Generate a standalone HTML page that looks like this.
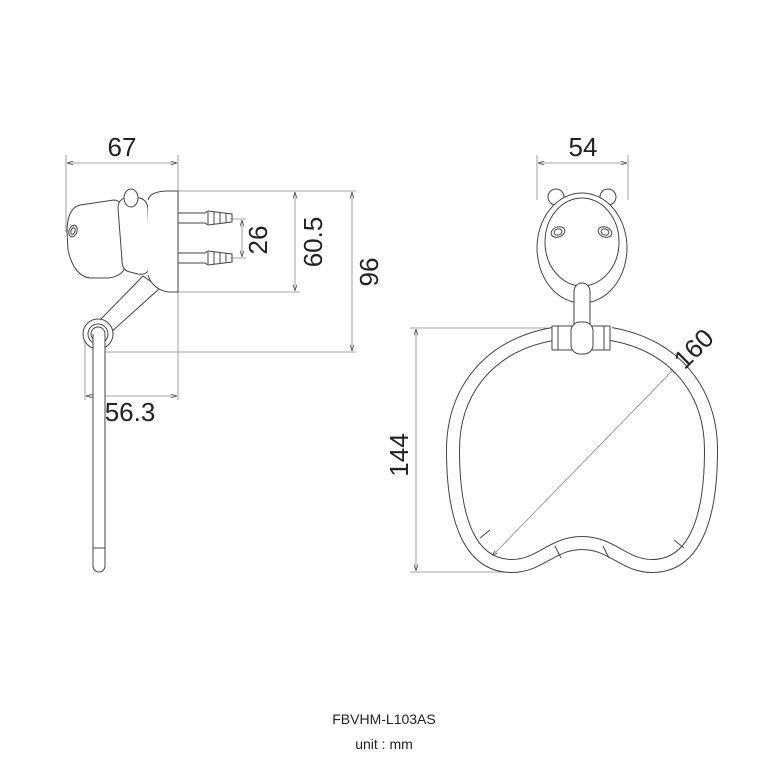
<!DOCTYPE html>
<html><head><meta charset="utf-8"><style>
body{margin:0;background:#fff}
svg{display:block}
text{font-family:"Liberation Sans","DejaVu Sans",sans-serif;fill:#222}
</style></head><body>
<svg width="768" height="768" viewBox="0 0 768 768" xmlns="http://www.w3.org/2000/svg">
<defs>
<marker id="a" viewBox="0 0 10 6" refX="10" refY="3" markerWidth="8" markerHeight="5" orient="auto-start-reverse"><path d="M0,0L10,3L0,6" fill="none" stroke="#333" stroke-width="1"/></marker>
</defs>
<g stroke="#888" stroke-width="0.8" fill="none">
<line x1="66" y1="155" x2="66" y2="232"/>
<line x1="178" y1="155" x2="178" y2="400"/>
<line x1="67" y1="163" x2="177" y2="163" marker-start="url(#a)" marker-end="url(#a)"/>
<line x1="178" y1="191" x2="356" y2="191"/>
<line x1="178" y1="292" x2="300" y2="292"/>
<line x1="230" y1="219" x2="246" y2="219"/>
<line x1="230" y1="258" x2="246" y2="258"/>
<line x1="242" y1="220" x2="242" y2="257" marker-start="url(#a)" marker-end="url(#a)"/>
<line x1="295" y1="192" x2="295" y2="291" marker-start="url(#a)" marker-end="url(#a)"/>
<line x1="352" y1="192" x2="352" y2="351" marker-start="url(#a)" marker-end="url(#a)"/>
<line x1="102" y1="352" x2="356" y2="352"/>
<line x1="85" y1="340" x2="85" y2="400"/>
<line x1="86" y1="396" x2="177" y2="396" marker-start="url(#a)" marker-end="url(#a)"/>
<line x1="537" y1="155" x2="537" y2="200"/>
<line x1="628" y1="155" x2="628" y2="200"/>
<line x1="538" y1="163" x2="627" y2="163" marker-start="url(#a)" marker-end="url(#a)"/>
<line x1="410" y1="328" x2="550" y2="328"/>
<line x1="410" y1="572" x2="520" y2="572"/>
<line x1="416" y1="329" x2="416" y2="571" marker-start="url(#a)" marker-end="url(#a)"/>
<line x1="492" y1="556" x2="676" y2="367" marker-start="url(#a)" marker-end="url(#a)"/>
</g>
<g fill="none" stroke="#444" stroke-width="1">
<path d="M143,276 L98,322 L109,334 L160,288 Z" fill="#fff"/>
<path d="M67,232 C67,215 72,207 80,205 L114,200 C120,200 122,205 123,213 L126,262 C126,272 118,277 108,278 L90,278 C80,277 72,268 68,250 Z" fill="#fff"/>
<ellipse cx="73" cy="231" rx="4" ry="6" transform="rotate(20 73 231)"/>
<ellipse cx="73" cy="231" rx="2" ry="3.5" transform="rotate(20 73 231)"/>
<path d="M118,208 C118,200 124,197 130,197 L140,198 C146,200 148,205 148,210 L150,265 C150,272 145,275 138,274 L130,272 C124,271 122,266 122,260 Z" fill="#fff"/>
<ellipse cx="131" cy="198" rx="7" ry="9" fill="#fff"/>
<path d="M148,200 C150,193 158,191 168,191 L178,191 L178,292 L168,292 C156,290 150,282 148,275" fill="#fff"/>
<circle cx="98" cy="334" r="15" fill="#fff"/>
<circle cx="98" cy="334" r="10"/>
<circle cx="98" cy="334" r="7"/>
<path d="M93,334 L93,566 A6,6 0 0 0 105,566 L105,334" fill="#fff"/>
<line x1="93" y1="548" x2="105" y2="548"/>
<g id="pin"><path d="M178,213 L205,213 L208,211 L232,214 L232,222 L208,225 L205,223 L178,223"/><line x1="208" y1="212" x2="208" y2="224"/><line x1="214" y1="212" x2="214" y2="224"/><line x1="220" y1="213" x2="220" y2="223"/><line x1="226" y1="213" x2="226" y2="223"/></g>
<use href="#pin" y="40"/>
<circle cx="556" cy="197" r="8" fill="#fff"/>
<circle cx="608" cy="197" r="8" fill="#fff"/>
<ellipse cx="582" cy="248" rx="45" ry="55" fill="#fff"/>
<ellipse cx="582" cy="242" rx="37" ry="44"/>
<ellipse cx="558" cy="232" rx="7" ry="5" transform="rotate(-20 558 232)"/>
<ellipse cx="558" cy="232" rx="4" ry="3" transform="rotate(-20 558 232)"/>
<ellipse cx="605" cy="232" rx="7" ry="5" transform="rotate(20 605 232)"/>
<ellipse cx="605" cy="232" rx="4" ry="3" transform="rotate(20 605 232)"/>
<path d="M574,292 C574,280 590,280 590,292 L590,330 L574,330 Z" fill="#fff"/>
</g>
<path id="ring" d="M553,334 C490,345 453,390 453,450 C453,520 470,566 512,566 C540,566 552,543 582,543 C612,543 624,566 652,566 C694,566 711,520 711,450 C711,390 674,345 611,334" fill="none" stroke="#444" stroke-width="14"/>
<path d="M553,334 C490,345 453,390 453,450 C453,520 470,566 512,566 C540,566 552,543 582,543 C612,543 624,566 652,566 C694,566 711,520 711,450 C711,390 674,345 611,334" fill="none" stroke="#fff" stroke-width="12"/>
<g fill="none" stroke="#444" stroke-width="1">
<line x1="480" y1="538" x2="490" y2="530"/>
<line x1="555" y1="546" x2="561" y2="558"/>
<line x1="603" y1="546" x2="609" y2="558"/>
<line x1="674" y1="540" x2="684" y2="548"/>
<rect x="552" y="326" width="58" height="24" fill="#fff"/>
<line x1="558" y1="326" x2="558" y2="350"/>
<line x1="604" y1="326" x2="604" y2="350"/>
<rect x="571" y="322" width="22" height="32" rx="9" fill="#fff"/>
</g>
<g font-size="26">
<text x="122" y="156" text-anchor="middle">67</text>
<text x="130" y="421" text-anchor="middle">56.3</text>
<text x="583" y="156" text-anchor="middle">54</text>
<text transform="translate(267,240) rotate(-90)" text-anchor="middle">26</text>
<text transform="translate(322,242) rotate(-90)" text-anchor="middle">60.5</text>
<text transform="translate(378,272) rotate(-90)" text-anchor="middle">96</text>
<text transform="translate(408,455) rotate(-90)" text-anchor="middle">144</text>
<text transform="translate(700,355) rotate(-45)" text-anchor="middle">160</text>
</g>
<text x="384" y="724" font-size="14" text-anchor="middle">FBVHM-L103AS</text>
<text x="384" y="749" font-size="14" text-anchor="middle">unit : mm</text>
</svg>
</body></html>
